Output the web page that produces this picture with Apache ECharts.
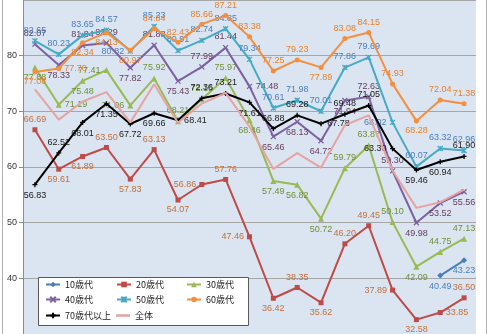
<!DOCTYPE html>
<html><head><meta charset="utf-8">
<script src="https://cdn.jsdelivr.net/npm/echarts@6/dist/echarts.min.js"></script>
<style>html,body{margin:0;padding:0;background:#fff}#c{width:500px;height:334px}</style>
</head><body><div id="c"></div>
<script>
var categories = ['1','2','3','4','5','6','7','8','9','10','11','12','13','14','15','16','17','18','19'];
var yTicks = [40, 50, 60, 70, 80];
var s10 = [null,null,null,null,null,null,null,null,null,null,null,null,null,null,null,null,null,40.49,43.23];
var s20 = [66.69,59.61,61.89,63.50,57.83,63.13,54.07,56.86,57.76,47.46,36.42,38.35,35.62,46.20,49.45,37.89,32.58,33.85,36.50];
var s30 = [77.88,71.19,75.48,77.41,71.06,75.92,68.21,72.15,75.97,68.46,57.49,56.82,50.72,59.79,63.87,50.10,42.09,44.75,47.13];
var s40 = [82.07,78.33,81.84,82.29,77.82,81.88,75.43,77.99,81.44,74.48,65.46,68.13,64.72,71.94,72.63,59.30,49.98,53.52,55.56];
var s50 = [82.65,80.23,83.65,84.57,80.82,85.23,80.91,82.74,84.85,79.34,70.61,71.98,70.01,77.86,79.69,68.02,60.07,63.32,62.96];
var s60 = [77.08,77.70,82.34,84.13,80.97,84.84,82.43,85.66,87.21,83.38,77.25,79.23,77.89,83.08,84.15,74.93,68.28,72.04,71.38];
var s70 = [56.83,62.52,68.01,71.35,67.72,69.66,68.41,72.36,73.21,71.61,66.88,69.28,67.78,69.48,71.05,63.30,59.46,60.94,61.90];
var sAll = [73.93,68.51,71.76,73.45,68.02,74.87,67.94,71.40,73.31,67.26,59.65,62.49,59.89,67.51,69.27,59.37,52.66,53.68,55.93];
var names = ['10歳代','20歳代','30歳代','40歳代','50歳代','60歳代','70歳代以上','全体'];

// label placement styling (t=top, b=bottom, l=left, r=right)
var posMap = {t:'top', b:'bottom', l:'left', r:'right'};
var styles = [
  {data:s10, color:'#4a7ebb', label:'#4a7ebb', symbol:'diamond', size:6, pos:'tttttttttttttttttbb'},
  {data:s20, color:'#be4b48', label:'#c0703c', symbol:'rect', size:5, pos:'tbbtbtbltlbtbttlbrt'},
  {data:s30, color:'#98b954', label:'#6f8f3a', symbol:'triangle', size:6, pos:'brbllttttbbbbtttbtt'},
  {data:s40, color:'#7d60a0', label:'#663b5c', symbol:'path://M0,0L10,10M10,0L0,10', size:5, stroke:true, pos:'tbttbtbttrbbbbttbbb'},
  {data:s50, color:'#46aac5', label:'#4a7ebb', symbol:'path://M0,0L10,10M10,0L0,10M5,0L5,10', size:5, stroke:true, pos:'ttttlttttttttttlttt'},
  {data:s60, color:'#f38f3e', label:'#e8812a', symbol:'circle', size:5, pos:'brbbbtttttttbtttbtt'},
  {data:s70, color:'#000000', label:'#1a1a1a', symbol:'path://M5,0L5,10M0,5L10,5', size:5, stroke:true, pos:'btbbbbrttbttrttlbbt'},
  {data:sAll, color:'#e6a3a1', label:'#e59592', symbol:'none', size:0, pos:'bbrtbtbrrlrrlrrrrtt'}
];

var series = styles.map(function(st, k){
  return {
    name: names[k],
    type: 'line',
    data: st.data.map(function(v, i){
      return {value: v, label: {position: posMap[st.pos.charAt(i)]}};
    }),
    symbol: st.symbol,
    symbolSize: st.size,
    showSymbol: st.symbol !== 'none',
    connectNulls: false,
    lineStyle: {color: st.color, width: 2},
    itemStyle: st.stroke ? {color: st.color, borderColor: st.color, borderWidth: 1.3} : {color: st.color, borderColor: st.color, borderWidth: 0},
    label: {
      show: true, fontSize: 9, distance: 3,
      fontFamily: 'Liberation Sans, Arial, sans-serif',
      color: st.label,
      formatter: function(p){ return p.value == null ? '' : Number(p.value).toFixed(2); }
    },
    emphasis: {disabled: true},
    z: 2 + k * 0.01
  };
});

// one legend per item, laid out as 3 columns x 3 rows
var colX = [45, 116, 186];
var rowY = [280, 295, 311];
var legends = names.map(function(n, k){
  var isAll = n === '全体';
  return {
    left: colX[k % 3], top: rowY[Math.floor(k / 3)],
    padding: 0,
    itemWidth: 14, itemHeight: isAll ? 2.5 : 7, itemTextGap: 2,
    icon: isAll ? 'rect' : undefined,
    textStyle: {fontSize: 9, color: '#222', fontFamily: 'Noto Sans CJK JP, sans-serif'},
    data: [n],
    selectedMode: false,
    z: 6
  };
});

var chart = echarts.init(document.getElementById('c'), null, {renderer: 'canvas'});
chart.setOption({
  animation: false,
  backgroundColor: '#ffffff',
  grid: {left: 23, right: 24, top: -3, bottom: -4, show: true, backgroundColor: '#dbe5f1', borderWidth: 0, containLabel: false},
  xAxis: {
    type: 'category', data: categories, boundaryGap: true,
    axisLabel: {show: false}, axisTick: {show: false}, axisLine: {show: false}, splitLine: {show: false}
  },
  yAxis: {
    type: 'value', min: 30, max: 90, interval: 10,
    axisLine: {show: true, lineStyle: {color: '#8c8c8c', width: 1}},
    axisTick: {show: true, inside: false, length: 4, lineStyle: {color: '#8c8c8c'}},
    axisLabel: {
      fontSize: 9, color: '#333', margin: 6, fontFamily: 'Liberation Sans, Arial, sans-serif',
      showMinLabel: false, showMaxLabel: false,
      formatter: function(v){ return yTicks.indexOf(v) >= 0 ? String(v) : ''; }
    },
    splitLine: {show: true, lineStyle: {color: '#a6a6a6', width: 1}}
  },
  legend: legends,
  graphic: {elements: [
    {type: 'rect', z: 5, shape: {x: 38.5, y: 277.5, width: 210, height: 48}, style: {fill: '#ffffff', stroke: '#595959', lineWidth: 1}},
    {type: 'rect', z: 1, silent: true, shape: {x: 2.5, y: -10, width: 484, height: 360}, style: {fill: 'none', stroke: '#b0b0b0', lineWidth: 1}}
  ]},
  series: series
});
</script>
</body></html>
